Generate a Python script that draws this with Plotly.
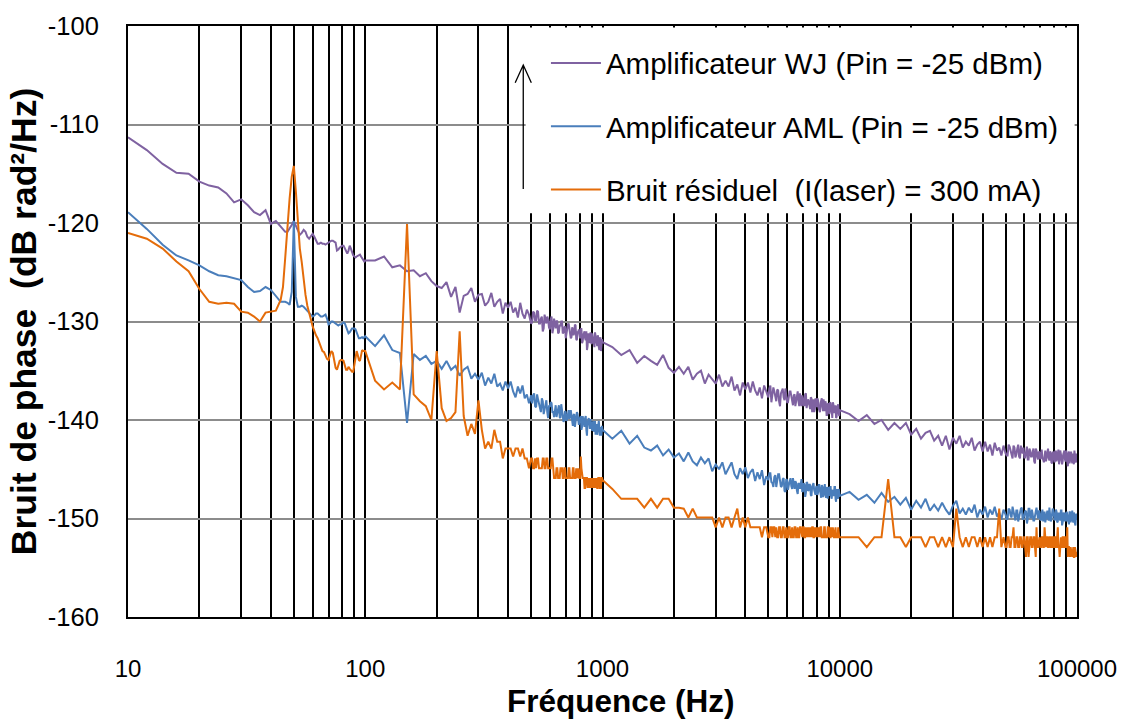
import plotly.graph_objects as go

# Frequency grid of the analyser sweep (Hz): coarse part of each decade
F_LOW = [10, 12, 14, 16, 18, 20, 22, 24, 26, 28, 30, 32, 34, 36, 38, 40, 42, 44] + list(range(45, 101))
F_MID = list(range(110, 1001, 10))
F_HIGH = list(range(1100, 10001, 100))
F_TOP = list(range(11000, 100001, 1000))
# extra points in the upper half of each decade (finer sweep step there)
F_MID_X = list(range(505, 1000, 10))
F_HIGH_X = list(range(5050, 10000, 100))
F_TOP_X = list(range(50500, 100000, 1000))

# Amplificateur WJ (dB rad²/Hz)
WJ_LOW = [
    -111.3, -112.6, -114.0, -114.9, -115.0, -115.8, -116.2, -116.4, -117.0, -117.9, -117.6, -118.2, -118.9, -119.2, -118.7, -120.1, -119.8, -120.4,
    -120.7, -120.9, -120.9, -120.6, -120.2, -119.8, -120.3, -120.9, -121.2, -121.0,
    -120.7, -120.9, -121.4, -121.6, -121.4, -121.1, -121.4, -121.8, -122.1, -122.1,
    -122.0, -122.1, -122.1, -122.2, -122.1, -122.0, -121.9, -121.8, -121.8, -121.9,
    -122.0, -122.8, -122.7, -122.5, -122.4, -122.3, -122.3, -122.6, -122.9, -123.1,
    -122.8, -122.3, -122.6, -123.0, -123.3, -123.4, -123.5, -123.4, -123.3, -123.2,
    -123.2, -123.4, -123.6, -123.8, -123.9, -123.8,
]
WJ_MID = [
    -123.8, -123.4, -124.5, -124.3, -124.9, -124.8, -125.4, -125.1, -125.9, -126.4,
    -126.6, -126.0, -127.5, -126.5, -129.1, -127.4, -127.2, -126.6, -128.0, -127.3,
    -127.2, -128.4, -128.0, -127.1, -128.5, -128.0, -127.7, -129.2, -128.1, -128.6,
    -128.0, -129.1, -128.6, -129.6, -128.1, -129.2, -129.7, -128.8, -129.3, -130.2,
    -129.0, -129.9, -128.9, -130.2, -129.7, -131.0, -129.3, -130.2, -129.8, -130.8,
    -129.5, -130.7, -130.5, -129.9, -131.2, -130.4, -130.0, -131.2, -130.6, -131.7,
    -130.5, -130.2, -131.3, -131.6, -130.8, -131.2, -130.4, -131.9, -131.1, -131.7,
    -130.8, -132.2, -131.4, -131.0, -131.9, -132.9, -131.3, -131.9, -131.1, -132.3,
    -131.6, -132.5, -131.1, -132.1, -132.5, -131.7, -132.9, -131.6, -132.4, -132.1,
]
WJ_HIGH = [
    -132.6, -133.4, -132.9, -134.2, -133.5, -134.0, -134.4, -133.4, -134.7, -135.2,
    -134.6, -135.3, -134.6, -135.9, -135.3, -135.0, -136.3, -135.4, -135.9, -136.3,
    -135.4, -136.6, -136.0, -136.6, -135.6, -137.0, -136.4, -137.5, -136.2, -136.9,
    -136.2, -137.2, -136.1, -137.0, -137.5, -136.7, -137.8, -136.5, -137.1, -137.7,
    -136.5, -137.6, -137.1, -138.1, -137.0, -138.6, -137.0, -137.7, -136.8, -138.2,
    -137.6, -137.1, -138.3, -137.5, -138.6, -137.5, -138.1, -137.3, -138.6, -137.8,
    -138.5, -137.3, -138.5, -138.1, -138.9, -137.8, -138.4, -139.2, -137.8, -138.7,
    -138.0, -139.1, -138.3, -137.8, -139.1, -138.7, -138.1, -139.5, -138.4, -138.9,
    -138.2, -139.2, -139.8, -138.4, -139.1, -138.6, -139.7, -138.6, -139.3, -139.0,
]
WJ_TOP = [
    -139.4, -140.1, -139.5, -140.4, -140.0, -141.0, -140.3, -140.9, -140.3, -141.5,
    -140.9, -141.9, -141.3, -141.1, -142.1, -141.6, -142.6, -141.6, -143.0, -141.8,
    -142.4, -141.6, -142.8, -142.2, -142.6, -141.8, -143.1, -142.5, -142.2, -143.2,
    -142.2, -143.2, -142.5, -143.6, -142.3, -143.1, -142.8, -143.6, -142.6, -143.4,
    -143.6, -142.7, -143.4, -142.6, -143.8, -142.9, -143.7, -142.6, -143.4, -143.8,
    -143.0, -144.0, -142.9, -143.7, -143.3, -144.2, -142.9, -143.7, -143.2, -144.0,
    -143.0, -144.0, -143.5, -144.2, -143.1, -143.9, -143.2, -144.3, -143.4, -143.8,
    -143.2, -144.2, -143.4, -144.5, -143.1, -143.8, -144.2, -143.3, -144.0, -143.1,
    -144.2, -143.5, -144.4, -143.3, -144.0, -143.4, -144.5, -143.6, -144.3, -143.5,
]
WJ_MID_X = [
    -130.1, -129.1, -129.9, -129.0, -130.2, -129.5, -130.7, -129.8, -129.5, -130.6,
    -129.8, -131.2, -129.7, -130.7, -130.0, -131.1, -130.4, -130.0, -131.1, -130.5,
    -131.3, -130.3, -130.8, -131.7, -130.6, -131.4, -130.3, -131.8, -131.0, -130.8,
    -131.7, -130.7, -132.0, -131.2, -131.7, -131.0, -132.5, -131.3, -132.2, -131.6,
    -131.2, -132.2, -132.6, -131.5, -132.1, -131.4, -132.6, -131.8, -133.0, -131.8,
]
WJ_HIGH_X = [
    -136.8, -138.2, -136.7, -137.7, -136.9, -138.1, -137.3, -136.8, -138.0, -137.3,
    -138.2, -137.1, -137.7, -138.5, -137.4, -138.2, -137.1, -138.6, -137.8, -137.5,
    -138.5, -137.4, -138.8, -137.9, -138.4, -137.7, -139.2, -137.9, -138.9, -138.2,
    -137.8, -138.8, -139.2, -138.0, -138.7, -137.9, -139.1, -138.4, -139.5, -138.3,
    -139.4, -138.3, -139.0, -138.2, -139.3, -138.6, -139.8, -138.8, -138.4, -139.6,
]
WJ_TOP_X = [
    -143.6, -142.5, -143.1, -143.9, -142.8, -143.5, -142.5, -143.9, -143.1, -142.8,
    -143.8, -142.7, -144.0, -143.1, -143.7, -142.9, -144.4, -143.1, -144.0, -143.3,
    -143.0, -143.9, -144.3, -143.1, -143.7, -142.9, -144.1, -143.3, -144.4, -143.2,
    -144.3, -143.2, -143.9, -143.0, -144.1, -143.4, -144.5, -143.5, -143.1, -144.2,
    -143.4, -144.7, -143.2, -144.1, -143.3, -144.4, -143.6, -143.1, -144.2, -143.5,
]

# Amplificateur AML (dB rad²/Hz)
AML_LOW = [
    -118.9, -120.6, -122.2, -123.3, -123.8, -124.3, -124.9, -125.3, -125.4, -125.6, -125.8, -126.5, -127.0, -126.9, -126.5, -126.8, -127.4, -128.0,
    -128.0, -128.0, -128.1, -128.3, -127.0, -119.8, -127.5, -128.5, -128.5, -128.4,
    -128.5, -128.7, -129.0, -129.1, -129.3, -129.5, -129.4, -129.2, -129.2, -129.4,
    -129.5, -129.5, -129.4, -129.3, -129.7, -130.3, -130.2, -130.0, -130.0, -130.1,
    -130.2, -130.3, -130.4, -130.3, -130.3, -130.2, -130.1, -130.2, -130.6, -131.0,
    -131.2, -131.1, -130.9, -130.7, -130.7, -130.7, -130.8, -131.1, -131.4, -131.7,
    -131.7, -131.6, -131.6, -131.7, -131.6, -131.5,
]
AML_MID = [
    -132.5, -131.4, -132.9, -133.2, -140.3, -133.3, -133.9, -133.5, -134.3, -134.0,
    -134.8, -134.0, -134.9, -134.5, -135.5, -134.9, -134.6, -135.8, -135.3, -135.9,
    -135.2, -136.5, -135.7, -136.3, -135.3, -136.6, -136.3, -137.0, -136.1, -136.8,
    -136.1, -137.1, -137.7, -136.6, -137.3, -136.5, -137.8, -137.4, -138.3, -137.5,
    -137.5, -138.6, -137.4, -138.4, -139.2, -138.1, -138.9, -138.0, -139.8, -138.6,
    -138.3, -139.2, -138.8, -139.7, -138.7, -139.7, -138.4, -139.5, -140.0, -139.2,
    -139.9, -139.0, -139.7, -139.4, -140.6, -139.4, -140.2, -139.2, -140.5, -139.9,
    -139.6, -140.7, -140.0, -140.7, -139.6, -141.6, -140.1, -140.8, -139.9, -141.1,
    -140.3, -141.2, -140.1, -141.0, -141.5, -140.5, -141.3, -140.8, -141.6, -141.0,
]
AML_HIGH = [
    -141.9, -141.1, -142.4, -141.6, -142.8, -143.1, -142.6, -143.6, -143.0, -143.8,
    -143.4, -144.2, -143.3, -144.2, -144.6, -143.8, -144.4, -143.9, -145.2, -144.5,
    -145.0, -144.3, -145.5, -144.8, -144.3, -145.5, -146.0, -144.9, -145.5, -144.8,
    -145.9, -145.3, -145.0, -146.2, -145.3, -146.0, -145.1, -146.6, -145.7, -146.1,
    -145.4, -146.4, -145.8, -146.8, -145.5, -146.3, -146.7, -145.9, -147.3, -146.1,
    -146.6, -145.9, -147.0, -146.4, -146.2, -147.2, -146.4, -147.0, -146.0, -147.2,
    -146.6, -147.4, -146.4, -147.1, -146.6, -147.7, -146.4, -147.1, -147.6, -146.7,
    -147.4, -146.6, -147.6, -146.6, -147.8, -147.0, -147.5, -146.8, -148.0, -147.0,
    -146.9, -147.8, -147.2, -147.7, -146.8, -148.0, -147.1, -147.8, -147.0, -147.7,
]
AML_TOP = [
    -147.3, -148.1, -147.6, -148.4, -147.4, -148.3, -147.8, -148.6, -147.9, -149.1,
    -148.2, -148.9, -148.0, -149.2, -148.6, -149.2, -148.4, -149.1, -149.6, -148.7,
    -148.2, -149.5, -149.0, -149.6, -148.9, -149.4, -148.6, -149.9, -149.1, -149.6,
    -148.8, -149.9, -149.1, -149.6, -148.8, -149.8, -149.4, -150.1, -149.1, -149.6,
    -150.0, -149.1, -149.9, -149.4, -150.2, -149.2, -149.8, -149.0, -150.1, -149.5,
    -149.3, -150.1, -149.0, -149.9, -149.5, -150.2, -149.3, -149.9, -149.2, -150.1,
    -149.5, -150.3, -149.3, -149.8, -149.2, -150.2, -149.4, -150.1, -149.0, -150.0,
    -150.0, -149.3, -150.3, -149.5, -150.2, -149.2, -150.4, -149.6, -149.4, -150.3,
    -149.6, -150.3, -149.3, -150.4, -149.7, -150.2, -149.4, -150.5, -149.8, -150.1,
]
AML_MID_X = [
    -138.3, -137.3, -138.7, -137.9, -138.5, -137.8, -139.4, -138.2, -139.2, -138.6,
    -138.2, -139.2, -139.7, -138.5, -139.2, -138.5, -139.8, -139.0, -140.2, -139.1,
    -140.1, -139.1, -139.9, -139.0, -140.2, -139.5, -140.7, -139.7, -139.4, -140.5,
    -139.7, -141.0, -139.6, -140.6, -139.8, -141.0, -140.2, -139.8, -140.9, -140.3,
    -141.1, -140.1, -140.6, -141.5, -140.4, -141.2, -140.1, -141.6, -140.8, -140.6,
]
AML_HIGH_X = [
    -145.4, -146.3, -146.8, -145.6, -146.3, -145.5, -146.8, -146.0, -147.2, -146.0,
    -147.1, -146.0, -146.7, -145.9, -147.0, -146.4, -147.5, -146.5, -146.2, -147.3,
    -146.4, -147.8, -146.3, -147.2, -146.5, -147.6, -146.8, -146.4, -147.5, -146.8,
    -147.6, -146.6, -147.1, -147.9, -146.8, -147.6, -146.5, -147.9, -147.1, -146.8,
    -147.7, -146.7, -148.0, -147.1, -147.6, -146.8, -148.3, -147.1, -148.0, -147.3,
]
AML_TOP_X = [
    -150.1, -149.0, -149.7, -148.8, -149.9, -149.2, -150.3, -149.3, -148.9, -150.0,
    -149.2, -150.5, -149.0, -149.9, -149.1, -150.2, -149.4, -148.9, -150.0, -149.3,
    -150.2, -149.1, -149.6, -150.4, -149.3, -150.0, -148.9, -150.3, -149.5, -149.2,
    -150.2, -149.1, -150.4, -149.5, -150.0, -149.2, -150.7, -149.4, -150.3, -149.6,
    -149.3, -150.2, -150.6, -149.4, -150.0, -149.2, -150.4, -149.6, -150.7, -149.5,
]

# Bruit résiduel, I(laser) = 300 mA (dB rad²/Hz)
RES_LOW = [
    -121.0, -121.6, -122.6, -123.9, -124.9, -126.7, -128.0, -128.2, -128.1, -128.2, -129.0, -129.1, -129.5, -130.0, -129.1, -129.0, -128.9, -127.8,
    -126.5, -123.5, -120.0, -117.5, -115.3, -114.2, -116.8, -120.3, -122.6, -124.0,
    -125.8, -127.3, -128.4, -129.0, -129.8, -130.5, -131.0, -131.4, -131.7, -132.2,
    -132.6, -133.0, -133.1, -133.5, -133.8, -133.9, -133.5, -133.0, -133.2, -134.1,
    -134.7, -134.9, -134.5, -134.0, -133.9, -133.9, -134.0, -134.5, -134.9, -134.9,
    -134.6, -134.8, -135.0, -135.1, -135.1, -134.4, -133.6, -133.0, -133.4, -133.9,
    -134.0, -133.2, -132.9, -133.0, -133.0, -133.0,
]
RES_MID = [
    -136.0, -136.9, -136.2, -136.9, -120.1, -137.4, -138.1, -138.6, -140.0, -133.0,
    -138.8, -140.1, -139.8, -139.2, -131.0, -139.6, -141.6, -140.4, -141.4, -138.0,
    -141.0, -142.9, -142.2, -142.9, -141.0, -142.2, -142.2, -143.9, -142.9, -142.9,
    -142.9, -143.7, -142.9, -142.9, -143.7, -142.9, -143.9, -143.9, -144.9, -143.9,
    -144.9, -143.9, -143.9, -144.9, -144.9, -143.9, -144.9, -143.9, -144.9, -144.9,
    -143.9, -144.9, -145.9, -144.9, -145.9, -145.9, -144.9, -145.9, -144.9, -145.9,
    -145.9, -144.9, -145.9, -145.9, -144.9, -145.9, -145.9, -145.9, -144.9, -145.9,
    -143.7, -145.9, -145.9, -146.9, -145.9, -145.9, -145.9, -146.9, -145.9, -145.9,
    -145.9, -146.9, -145.9, -145.9, -146.9, -145.9, -145.9, -146.9, -145.9, -146.1,
]
RES_HIGH = [
    -147.0, -148.0, -148.0, -148.0, -148.9, -148.0, -148.9, -148.0, -148.0, -148.9,
    -148.9, -149.0, -149.9, -149.0, -149.9, -149.9, -149.9, -149.9, -149.9, -150.9,
    -149.9, -150.9, -149.9, -149.9, -150.9, -149.9, -149.0, -150.9, -149.9, -150.9,
    -149.9, -150.9, -150.9, -150.9, -150.9, -150.9, -151.9, -150.9, -150.9, -151.9,
    -150.9, -151.9, -150.9, -150.9, -151.9, -150.9, -151.9, -150.9, -151.9, -151.9,
    -150.9, -151.9, -150.9, -151.9, -150.9, -151.9, -151.9, -150.9, -151.9, -150.9,
    -151.9, -150.9, -151.9, -151.9, -150.9, -151.9, -150.9, -151.9, -151.9, -150.9,
    -151.9, -151.9, -150.9, -151.9, -151.9, -150.9, -151.9, -151.9, -150.9, -151.9,
    -151.9, -150.9, -151.9, -151.9, -151.9, -150.9, -151.9, -151.9, -151.9, -151.9,
]
RES_TOP = [
    -151.9, -151.9, -152.9, -151.9, -151.9, -146.0, -151.9, -151.9, -152.9, -151.9,
    -151.9, -151.9, -152.9, -151.9, -151.9, -152.9, -151.9, -152.9, -151.9, -152.9,
    -149.0, -151.9, -152.9, -151.9, -152.9, -151.9, -151.9, -152.9, -151.9, -152.9,
    -151.9, -152.9, -151.9, -152.9, -151.9, -151.9, -149.0, -152.9, -151.9, -152.9,
    -151.9, -152.9, -151.9, -150.9, -152.9, -151.9, -152.9, -151.9, -152.9, -151.9,
    -153.9, -151.9, -152.9, -151.9, -152.9, -151.9, -153.9, -152.9, -151.9, -152.9,
    -151.9, -152.9, -150.9, -152.9, -151.9, -152.9, -151.9, -152.9, -151.9, -152.9,
    -151.9, -152.9, -150.9, -152.9, -151.9, -152.9, -151.9, -152.9, -151.9, -152.9,
    -150.9, -152.9, -153.9, -152.9, -153.9, -153.4, -153.9, -152.9, -153.9, -153.4,
]
RES_MID_X = [
    -143.9, -144.9, -144.9, -143.9, -144.9, -144.9, -143.9, -144.9, -143.9, -144.9,
    -144.9, -143.9, -145.9, -145.9, -144.9, -145.9, -144.9, -144.9, -145.9, -144.9,
    -145.9, -145.9, -144.9, -145.9, -145.9, -144.9, -145.9, -144.9, -145.9, -145.9,
    -145.9, -144.9, -145.9, -145.9, -146.9, -145.9, -146.9, -145.9, -145.9, -146.9,
    -146.9, -145.9, -145.9, -146.9, -145.9, -146.9, -145.9, -146.9, -146.9, -145.9,
]
RES_HIGH_X = [
    -151.9, -150.9, -150.9, -151.9, -151.9, -150.9, -151.9, -150.9, -151.9, -150.9,
    -151.9, -150.9, -151.9, -151.9, -150.9, -151.9, -150.9, -151.9, -150.9, -151.9,
    -150.9, -151.9, -151.9, -150.9, -151.9, -151.9, -150.9, -151.9, -150.9, -151.9,
    -151.9, -150.9, -151.9, -150.9, -151.9, -151.9, -150.9, -151.9, -151.9, -150.9,
    -150.9, -151.9, -151.9, -150.9, -151.9, -150.9, -151.9, -151.9, -150.9, -151.9,
]
RES_TOP_X = [
    -152.9, -151.9, -152.9, -151.9, -152.9, -151.9, -152.9, -151.9, -152.9, -151.9,
    -152.9, -151.9, -153.9, -151.9, -152.9, -151.9, -152.9, -150.9, -152.9, -151.9,
    -152.9, -151.9, -152.9, -152.9, -151.9, -152.9, -151.9, -152.9, -151.9, -152.9,
    -151.9, -152.9, -151.9, -152.9, -153.9, -151.9, -152.9, -151.9, -152.9, -151.9,
    -152.9, -153.9, -152.9, -153.9, -153.4, -153.9, -152.9, -153.9, -153.4, -153.9,
]

SERIES_NAMES = [
    "Amplificateur WJ (Pin = -25 dBm)",
    "Amplificateur AML (Pin = -25 dBm)",
    "Bruit résiduel \u00a0(I(laser) = 300 mA)",
]
SERIES_COLORS = ["#7F62A1", "#4A7EBB", "#E46C0A"]

# Axis ticks
X_TICK_VALS = [m * 10 ** e for e in range(1, 5) for m in range(1, 10)] + [100000]
X_TICK_TEXT = [str(v) if str(v).strip("0") == "1" else "" for v in X_TICK_VALS]
Y_TICK_VALS = [-160, -150, -140, -130, -120, -110, -100]
Y_TICK_TEXT = ["-160", "-150", "-140", "-130", "-120", "-110", "-100"]

FONT = "Liberation Sans, Arial, sans-serif"

# merge coarse and fine sweep points, in frequency order
freq_all = F_LOW + F_MID + F_HIGH + F_TOP + F_MID_X + F_HIGH_X + F_TOP_X
order = sorted(range(len(freq_all)), key=freq_all.__getitem__)
FREQ = [freq_all[k] for k in order]


def merged(low, mid, high, top, mid_x, high_x, top_x):
    vals = low + mid + high + top + mid_x + high_x + top_x
    return [vals[k] for k in order]


WJ = merged(WJ_LOW, WJ_MID, WJ_HIGH, WJ_TOP, WJ_MID_X, WJ_HIGH_X, WJ_TOP_X)
AML = merged(AML_LOW, AML_MID, AML_HIGH, AML_TOP, AML_MID_X, AML_HIGH_X, AML_TOP_X)
RES = merged(RES_LOW, RES_MID, RES_HIGH, RES_TOP, RES_MID_X, RES_HIGH_X, RES_TOP_X)

fig = go.Figure()
for i, (name, ys, col) in enumerate(zip(SERIES_NAMES, [WJ, AML, RES], SERIES_COLORS)):
    fig.add_trace(go.Scatter(
        x=FREQ, y=ys, mode="lines", name=name,
        legendgroup=f"g{i}",
        line=dict(color=col, width=2),
    ))

# white panel behind the legend, hiding the grid there
fig.add_shape(type="rect", xref="paper", yref="paper",
              x0=0.419, x1=0.9975, y0=0.683, y1=0.9975,
              fillcolor="white", line=dict(width=0), layer="above")

# upward arrow beside the legend
ax_x = 0.4165
fig.add_shape(type="path", xref="paper", yref="paper",
              path=f"M{ax_x},0.724 L{ax_x},0.934 M{ax_x - 0.0085},0.904 L{ax_x},0.934 L{ax_x + 0.0085},0.904",
              line=dict(color="black", width=1.3), layer="above")

# x-axis title
fig.add_annotation(text="Fréquence (Hz)", xref="paper", yref="paper",
                   x=0.52, y=-0.1425, xanchor="center", yanchor="middle",
                   showarrow=False,
                   font=dict(family=FONT, size=31.5, color="black", weight="bold"))

fig.update_layout(
    width=1129, height=723,
    margin=dict(l=128, r=49, t=23, b=106),
    paper_bgcolor="white", plot_bgcolor="white",
    font=dict(family=FONT, color="black"),
    showlegend=True,
    legend=dict(
        x=0.4404, y=0.981, xanchor="left", yanchor="top",
        bgcolor="rgba(0,0,0,0)", borderwidth=0,
        font=dict(family=FONT, size=29.5, color="black"),
        traceorder="grouped", tracegroupgap=22, itemwidth=50,
    ),
    xaxis=dict(
        type="log", range=[1, 5],
        tickmode="array", tickvals=X_TICK_VALS, ticktext=X_TICK_TEXT,
        ticks="", ticklabelstandoff=29,
        tickfont=dict(family=FONT, size=24, color="black"),
        showgrid=True, gridcolor="black", gridwidth=2,
        showline=True, linecolor="black", linewidth=2, mirror=True,
        zeroline=False,
    ),
    yaxis=dict(
        range=[-160, -100],
        tickmode="array", tickvals=Y_TICK_VALS, ticktext=Y_TICK_TEXT,
        ticks="", ticklabelstandoff=22,
        tickfont=dict(family=FONT, size=25.5, color="black"),
        showgrid=True, gridcolor="#8C8C8C", gridwidth=2,
        showline=True, linecolor="black", linewidth=2, mirror=True,
        zeroline=False,
        title=dict(text="Bruit de phase \u00a0(dB rad²/Hz)", standoff=0,
                   font=dict(family=FONT, size=35.5, color="black", weight="bold")),
    ),
)

fig.write_html("out.html")
